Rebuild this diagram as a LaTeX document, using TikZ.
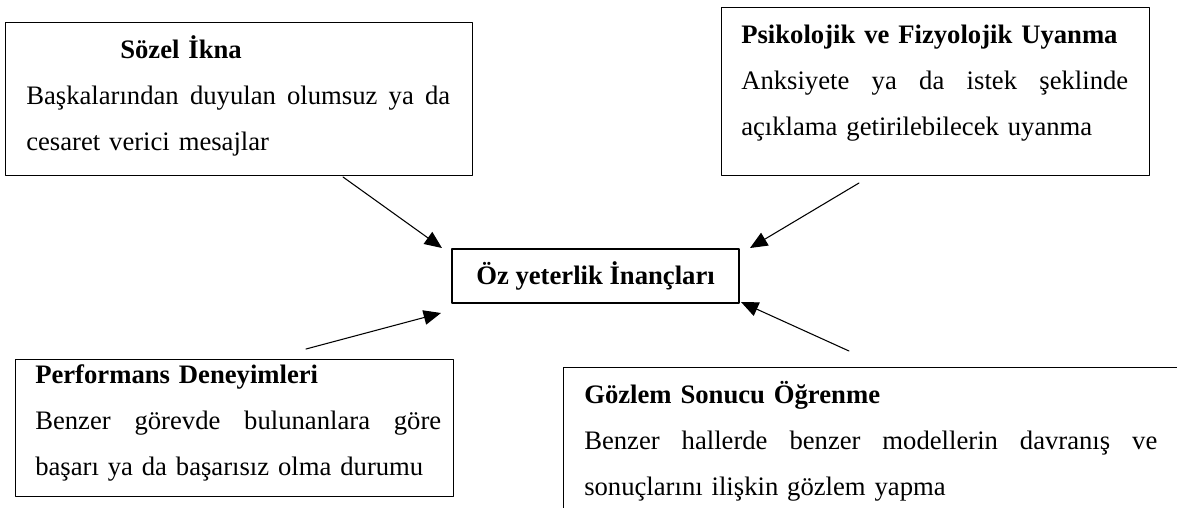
\documentclass[tikz,border=0pt]{standalone}
\usepackage{fontspec}
\setmainfont{Liberation Serif}
\usetikzlibrary{arrows.meta}

\newcommand{\yasla}[2]{\leavevmode\hbox to #1{#2}}

\tikzset{
  kutu/.style={draw, line width=1pt, inner sep=0pt, anchor=north west},
  metin/.style={inner sep=0pt, anchor=base west, align=left, font=\fontsize{20}{34.5}\selectfont},
  ok/.style={-{Triangle[length=13pt,width=11pt]}, line width=0.8pt},
}

\begin{document}
\begin{tikzpicture}[line cap=round, line join=round, x=0.75pt, y=-0.75pt]
  \useasboundingbox (0,0) rectangle (1177,507);
  \clip (0,0) rectangle (1177,507);

  % Boxes
  \node[kutu, minimum width=350.25pt, minimum height=114.75pt] (sozel) at (5,22) {};
  \node[kutu, minimum width=321pt, minimum height=126pt] (uyanma) at (721,7) {};
  \node[kutu, minimum width=328.5pt, minimum height=102.75pt] (performans) at (15,359) {};
  \node[kutu, minimum width=470.25pt, minimum height=114.75pt] (gozlem) at (563,367) {};
  \node[draw, line width=1pt, inner sep=0pt, minimum width=215.25pt, minimum height=40.5pt,
        font=\fontsize{20}{24}\selectfont\bfseries] (oz) at (595.5,276) {Öz yeterlik İnançları};

  % Texts
  \node[metin, text width=318pt] (sozelyazi) at (26,58)
    {\hspace*{70.5pt}\textbf{Sözel İkna}\\
     \yasla{318pt}{Başkalarından\hfill duyulan\hfill olumsuz\hfill ya\hfill da}\\
     cesaret verici mesajlar};
  \node[metin, text width=290.25pt] (uyanmayazi) at (741,43)
    {\textbf{Psikolojik ve Fizyolojik Uyanma}\\
     \yasla{290.25pt}{Anksiyete\hfill ya\hfill da\hfill istek\hfill şeklinde}\\
     açıklama getirilebilecek uyanma};
  \node[metin, text width=304.5pt] (performansyazi) at (35,383)
    {\textbf{Performans Deneyimleri}\\
     \yasla{304.5pt}{Benzer\hfill görevde\hfill bulunanlara\hfill göre}\\
     başarı ya da başarısız olma durumu};
  \node[metin, text width=429.75pt] (gozlemyazi) at (584,403)
    {\textbf{Gözlem Sonucu Öğrenme}\\
     \yasla{429.75pt}{Benzer\hfill hallerde\hfill benzer\hfill modellerin\hfill davranış\hfill ve}\\
     sonuçlarını ilişkin gözlem yapma};

  % Arrows
  \coordinate (s1) at (343,177);
  \coordinate (t1) at (442,248);
  \coordinate (s2) at (859,183);
  \coordinate (t2) at (750,248);
  \coordinate (s3) at (306,349);
  \coordinate (t3) at (441,313);
  \coordinate (s4) at (849,351);
  \coordinate (t4) at (741,302);
  \draw[ok] (s1) -- (t1);
  \draw[ok] (s2) -- (t2);
  \draw[ok] (s3) -- (t3);
  \draw[ok] (s4) -- (t4);
\end{tikzpicture}
\end{document}
